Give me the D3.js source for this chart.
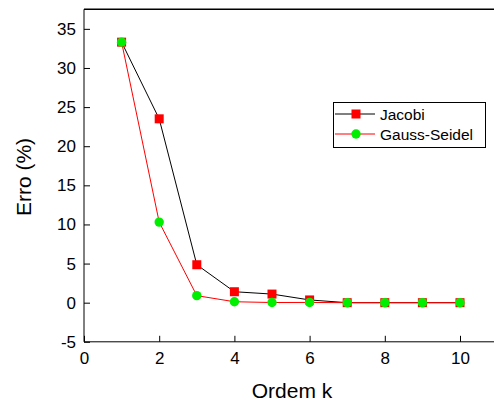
<!DOCTYPE html>
<html><head><meta charset="utf-8">
<script src="https://cdn.jsdelivr.net/npm/d3@7"></script>
<style>body{margin:0;background:#fff}svg{display:block}</style>
</head><body>
<svg id="c" width="494" height="405"></svg>
<script>
const ordem = [1,2,3,4,5,6,7,8,9,10];
const jacobi = [33.3,23.5,4.85,1.4,1.1,0.35,0,0,0,0];
const gaussSeidel = [33.3,10.3,0.9,0.12,0.02,0.03,0,0,0,0];
const xTicks = [0,2,4,6,8,10];
const yTicks = [-5,0,5,10,15,20,25,30,35];
const seriesNames = ["Jacobi","Gauss-Seidel"];

const svg = d3.select("#c");
const font = "Liberation Sans, Arial, sans-serif";
const L = 84, T = 9.3, B = 341.8;
const x = d3.scaleLinear().domain([0,1]).range([L, L+37.6]);
const y = d3.scaleLinear().domain([-5,37.5]).range([B, T]);
const R = 494;
const fmt = d => String(d);

svg.append("line").attr("x1",L).attr("x2",R).attr("y1",T).attr("y2",T).attr("stroke","#000").attr("stroke-width",1.6);

const xAxis = d3.axisBottom(x).tickValues(xTicks).tickFormat(fmt).tickSizeInner(-6).tickSizeOuter(0).tickPadding(10);
const gx = svg.append("g").attr("transform",`translate(0,${B})`).call(xAxis);
gx.select(".domain").attr("d",`M${L},0H${R}`);
gx.selectAll("text").attr("font-family",font).attr("font-size",17).attr("fill","#000");

const yAxis = d3.axisLeft(y).tickValues(yTicks).tickFormat(fmt).tickSizeInner(-6).tickSizeOuter(0).tickPadding(8);
const gy = svg.append("g").attr("transform",`translate(${L},0)`).call(yAxis);
gy.selectAll("text").attr("font-family",font).attr("font-size",17).attr("fill","#000");
gy.select(".domain").attr("d",`M0,${T}V${B}`);

const line = d3.line().x((d,i)=>x(ordem[i])).y(d=>y(d));
svg.append("path").datum(jacobi).attr("d",line).attr("fill","none").attr("stroke","#000").attr("stroke-width",1);
svg.append("path").datum(gaussSeidel).attr("d",line).attr("fill","none").attr("stroke","#ff0000").attr("stroke-width",1);

const s = 9;
svg.append("g").selectAll("rect").data(jacobi).join("rect")
  .attr("x",(d,i)=>x(ordem[i])-s/2).attr("y",d=>y(d)-s/2).attr("width",s).attr("height",s)
  .attr("fill","#ff0000");
svg.append("g").selectAll("circle").data(gaussSeidel).join("circle")
  .attr("cx",(d,i)=>x(ordem[i])).attr("cy",d=>y(d)).attr("r",4.7).attr("fill","#00ee00");

const lg = svg.append("g");
lg.append("rect").attr("x",333.5).attr("y",102.5).attr("width",152).attr("height",45).attr("fill","#fff").attr("stroke","#000").attr("stroke-width",1);
const ly = [114,134];
lg.append("line").attr("x1",335).attr("x2",375).attr("y1",ly[0]).attr("y2",ly[0]).attr("stroke","#000");
lg.append("rect").attr("x",356-4.5).attr("y",ly[0]-4.5).attr("width",9).attr("height",9).attr("fill","#ff0000");
lg.append("line").attr("x1",335).attr("x2",375).attr("y1",ly[1]).attr("y2",ly[1]).attr("stroke","#ff0000");
lg.append("circle").attr("cx",356).attr("cy",ly[1]).attr("r",4.7).attr("fill","#00ee00");
seriesNames.forEach((n,i)=>{
  lg.append("text").attr("x",380).attr("y",ly[i]+5.5).attr("font-family",font).attr("font-size",15.5).text(n);
});

svg.append("text").attr("x",292).attr("y",398).attr("text-anchor","middle")
  .attr("font-family",font).attr("font-size",21).text("Ordem k");
svg.append("text").attr("transform","translate(31,177) rotate(-90)").attr("text-anchor","middle")
  .attr("font-family",font).attr("font-size",21).text("Erro (%)");
</script>
</body></html>
